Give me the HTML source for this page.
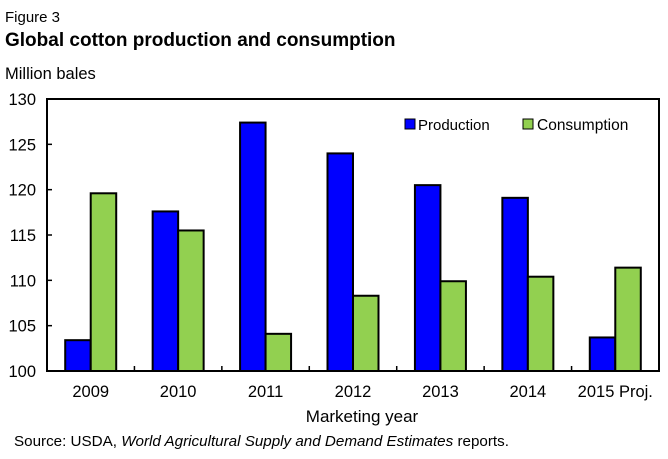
<!DOCTYPE html>
<html><head><meta charset="utf-8"><style>
body{margin:0;background:#fff;font-family:"Liberation Sans",Arial,sans-serif}
svg text{font-family:"Liberation Sans",Arial,sans-serif;fill:#000}
</style></head><body>
<svg id="c" width="668" height="454">
<text x="5" y="22" font-size="15">Figure 3</text>
<text x="5" y="46" font-size="19" font-weight="bold">Global cotton production and consumption</text>
<text x="5" y="79" font-size="16.5">Million bales</text>
<text x="362" y="422" font-size="17" text-anchor="middle">Marketing year</text>
<text x="14" y="446" font-size="15.2">Source: USDA, <tspan font-style="italic">World Agricultural Supply and Demand Estimates</tspan> reports.</text>
<g id="plot"></g>
<g>
<rect x="405" y="119" width="10" height="10" fill="#0000ff" stroke="#000"/>
<text x="418" y="130" font-size="15">Production</text>
<rect x="523" y="119" width="10" height="10" fill="#92d050" stroke="#000"/>
<text x="537" y="130" font-size="15.5">Consumption</text>
</g>
</svg>
<script>
const categories=["2009","2010","2011","2012","2013","2014","2015 Proj."];
const production=[103.4,117.6,127.4,124.0,120.5,119.1,103.7];
const consumption=[119.6,115.5,104.1,108.3,109.9,110.4,111.4];
const yTicks=[100,105,110,115,120,125,130];
const L=47,R=659,T=99,B=371,ymin=100,ymax=130;
const y=v=>B-(v-ymin)/(ymax-ymin)*(B-T);
const cw=(R-L)/categories.length;
const x=i=>L+i*cw;
const g=document.getElementById('plot');
const NS='http://www.w3.org/2000/svg';
function mk(t,a){const e=document.createElementNS(NS,t);for(const k in a)e.setAttribute(k,a[k]);g.appendChild(e);return e;}
categories.forEach((c,i)=>{
  const cx=x(i)+cw/2;
  const b1=mk('rect',{x:cx-25.5,y:y(production[i]),width:25.5,height:B-y(production[i]),fill:'#0000ff',stroke:'#000','stroke-width':2});
  
  
  const b2=mk('rect',{x:cx,y:y(consumption[i]),width:25.5,height:B-y(consumption[i]),fill:'#92d050',stroke:'#000','stroke-width':2});
  
  
  const t=mk('text',{x:cx,y:397,'font-size':16.5,'text-anchor':'middle'});t.textContent=c;
  
  
  if(i>0){const tk=mk('line',{x1:x(i),x2:x(i),y1:B,y2:B-5,stroke:'#000','stroke-width':1.5});
  
  }
});
yTicks.forEach(v=>{
  const tk=mk('line',{x1:L,x2:L+5,y1:y(v),y2:y(v),stroke:'#000','stroke-width':1.5});
  
  
  const t=mk('text',{x:36,y:y(v)+6,'font-size':16.5,'text-anchor':'end'});t.textContent=v;
  
  
});
const f=mk('rect',{x:L,y:T,width:R-L,height:B-T,fill:'none',stroke:'#000','stroke-width':2});


</script>
</body></html>
